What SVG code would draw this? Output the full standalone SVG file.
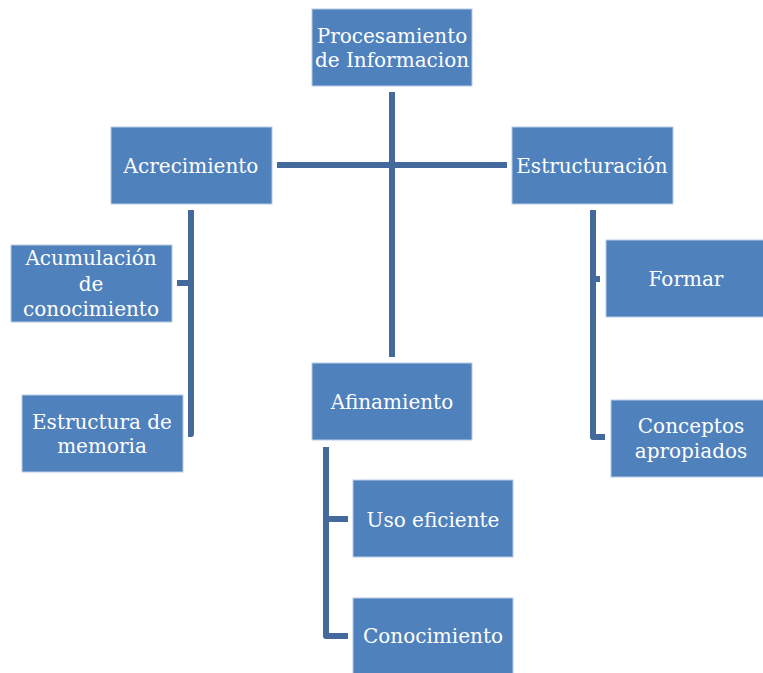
<svg xmlns="http://www.w3.org/2000/svg" width="763" height="673" viewBox="0 0 763 673">
<style>
.box{fill:#4f81bd;stroke:#b9cde5;stroke-width:1}
.t{font-family:"DejaVu Serif","Liberation Serif",serif;font-size:20px;fill:#ffffff;text-anchor:middle}
.c{fill:none;stroke:#44699c;stroke-width:6;stroke-linejoin:round}
</style>
<rect width="763" height="673" fill="#ffffff"/>
<g id="connectors">
<path class="c" d="M392,92 V357"/>
<path class="c" d="M277,165 H507"/>
<path class="c" d="M191,210 V434 H188 M191,283 H177"/>
<path class="c" d="M593,210 V437 H605 M593,279 H600"/>
<path class="c" d="M326,447 V636 H348 M326,519 H348"/>
</g>
<g id="procesamiento"><rect class="box" x="312" y="9" width="160" height="77"/><text class="t" x="392" y="43">Procesamiento</text><text class="t" x="392" y="67">de Informacion</text></g>
<g id="acrecimiento"><rect class="box" x="111" y="127" width="161" height="77"/><text class="t" x="191" y="173">Acrecimiento</text></g>
<g id="estructuracion"><rect class="box" x="512" y="127" width="161" height="77"/><text class="t" x="592" y="173">Estructuración</text></g>
<g id="acumulacion"><rect class="box" x="11" y="245" width="161" height="77"/><text class="t" x="91" y="265">Acumulación</text><text class="t" x="91" y="291">de</text><text class="t" x="91" y="316">conocimiento</text></g>
<g id="estructura-memoria"><rect class="box" x="22" y="395" width="161" height="77"/><text class="t" x="102" y="429">Estructura de</text><text class="t" x="102" y="453">memoria</text></g>
<g id="formar"><rect class="box" x="606" y="240" width="161" height="77"/><text class="t" x="686" y="286">Formar</text></g>
<g id="conceptos"><rect class="box" x="611" y="400" width="161" height="77"/><text class="t" x="691" y="433">Conceptos</text><text class="t" x="691" y="458">apropiados</text></g>
<g id="afinamiento"><rect class="box" x="312" y="363" width="160" height="77"/><text class="t" x="392" y="409">Afinamiento</text></g>
<g id="uso-eficiente"><rect class="box" x="353" y="480" width="160" height="77"/><text class="t" x="433" y="527">Uso eficiente</text></g>
<g id="conocimiento"><rect class="box" x="353" y="598" width="160" height="77"/><text class="t" x="433" y="643">Conocimiento</text></g>
</svg>
